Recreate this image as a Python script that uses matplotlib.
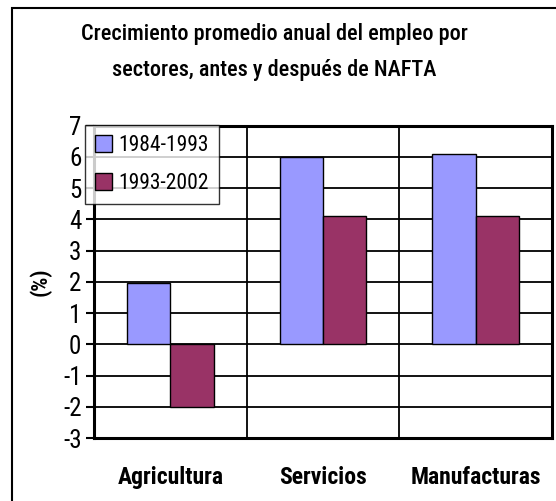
import matplotlib
matplotlib.use("Agg")
import matplotlib.pyplot as plt
import numpy as np
from matplotlib import font_manager
from matplotlib.patches import Rectangle

names = {f.name for f in font_manager.fontManager.ttflist}
FONT = "Roboto Condensed" if "Roboto Condensed" in names else "Liberation Sans"
plt.rcParams["font.family"] = [FONT, "DejaVu Sans"]

title = "Crecimiento promedio anual del empleo por\nsectores, antes y después de NAFTA"
categories = ["Agricultura", "Servicios", "Manufacturas"]
series_names = ["1984-1993", "1993-2002"]
values_1984_1993 = [1.95, 6.0, 6.1]
values_1993_2002 = [-2.0, 4.1, 4.1]
colors = ["#9999FF", "#993366"]
yticks = list(range(-3, 8))
ylabel = "(%)"

fig = plt.figure(figsize=(5.56, 5.01), dpi=100)
W, H = 556, 501
ax = fig.add_axes([94 / W, 1 - 438 / H, (552 - 94) / W, (438 - 125.7) / H])

x = np.arange(len(categories))
bw = 0.283
for i, (vals, name, col) in enumerate(zip([values_1984_1993, values_1993_2002], series_names, colors)):
    ax.bar(x + (i - 0.5) * bw, vals, width=bw, color=col, edgecolor="black",
           linewidth=1.0, label=name, zorder=3)

ax.set_xlim(-0.5, len(categories) - 0.5)
ax.set_ylim(-3, 7)
ax.set_yticks(yticks)
ax.set_yticklabels([str(t) for t in yticks], fontsize=18)
ax.set_xticks(x)
ax.set_xticklabels(categories, fontsize=17, fontweight="bold")
ax.set_xticks(np.arange(0.5, len(categories) - 0.5, 1.0), minor=True)
ax.tick_params(axis="x", which="both", length=0, pad=20)
ax.tick_params(axis="y", length=6, width=1.5, direction="out", pad=3)
ax.grid(axis="y", which="major", color="black", linewidth=1.3, zorder=0)
ax.grid(axis="x", which="minor", color="black", linewidth=1.3, zorder=0)
ax.set_axisbelow(True)
for s in ax.spines.values():
    s.set_linewidth(2.2)
    s.set_color("black")

ax.set_ylabel(ylabel, fontsize=16, fontweight="bold")
ax.yaxis.set_label_coords(-(94 - 52) / (552 - 94), (438 - 282) / (438 - 125.7))

leg = ax.legend(loc="upper left", bbox_to_anchor=((85 - 94) / (552 - 94), 1.002),
                fontsize=15.5, frameon=True, fancybox=False, handlelength=0.8,
                handleheight=0.85, handletextpad=0.3, borderpad=0.45,
                labelspacing=0.8, borderaxespad=0)
leg.get_frame().set_edgecolor("black")
leg.get_frame().set_linewidth(1.0)
leg.set_zorder(5)

fig.text(274 / W, 1 - 52 / H, title, ha="center", va="center", fontsize=16,
         fontweight="medium", linespacing=1.8)

fig.add_artist(Rectangle((12 / W, -0.05), 1.2, 1 - 8 / H + 0.05, transform=fig.transFigure,
                         fill=False, edgecolor="black", linewidth=1.5))

fig.savefig("out.png", dpi=100)
